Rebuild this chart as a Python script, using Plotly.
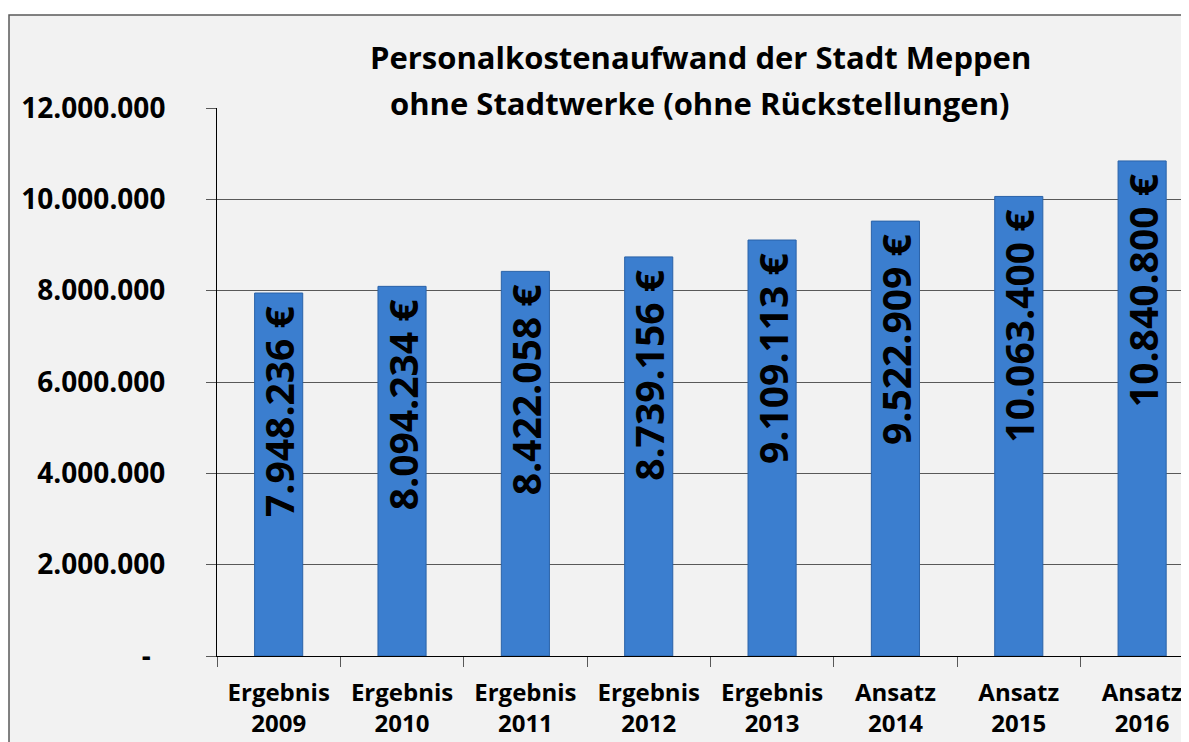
import plotly.graph_objects as go

categories = ["Ergebnis<br>2009", "Ergebnis<br>2010", "Ergebnis<br>2011", "Ergebnis<br>2012",
              "Ergebnis<br>2013", "Ansatz<br>2014", "Ansatz<br>2015", "Ansatz<br>2016"]
values = [7948236, 8094234, 8422058, 8739156, 9109113, 9522909, 10063400, 10840800]
value_labels = ["7.948.236 €", "8.094.234 €", "8.422.058 €", "8.739.156 €",
                "9.109.113 €", "9.522.909 €", "10.063.400 €", "10.840.800 €"]
y_ticks = [0, 2000000, 4000000, 6000000, 8000000, 10000000, 12000000]
y_tick_labels = ["-\u00a0\u00a0", "2.000.000", "4.000.000", "6.000.000",
                 "8.000.000", "10.000.000", "12.000.000"]
title_lines = ["Personalkostenaufwand der Stadt Meppen", "ohne Stadtwerke (ohne Rückstellungen)"]

# page has an 8px body margin: figure sized to fill the rest
W, H = 1181, 734
ml, mr, mt, mb = 209, 0, 100, 86
pw = W - ml - mr
ph = H - mt - mb

FONT = "Open Sans"

fig = go.Figure()
fig.add_trace(go.Bar(
    x=categories,
    y=values,
    width=0.39,
    marker=dict(color="#3B7ECF", line=dict(color="#2A62A8", width=1)),
    text=[t + "\u00a0" for t in value_labels],
    textposition="inside",
    insidetextanchor="end",
    textangle=-90,
    constraintext="none",
    textfont=dict(family=FONT, size=39, color="black", weight="bold"),
    cliponaxis=False,
))

# chart-area frame
fig.add_shape(type="rect", xref="paper", yref="paper",
              x0=(1 - ml) / pw, x1=1.2, y0=-1, y1=1 + (mt - 7) / ph,
              fillcolor="#F2F2F2", line=dict(color="#595959", width=1.5), layer="below")

# title lines (page y 57 and 103 -> figure y 49 and 95)
for line, yc in zip(title_lines, [49, 95]):
    fig.add_annotation(text=line, xref="paper", yref="paper",
                       x=(692 - ml) / pw, y=1 + (mt - yc) / ph,
                       xanchor="center", yanchor="middle", showarrow=False,
                       font=dict(family=FONT, size=31, color="black", weight="bold"))

fig.update_layout(
    width=W, height=H,
    margin=dict(l=ml, r=mr, t=mt, b=mb, pad=0),
    paper_bgcolor="white",
    plot_bgcolor="rgba(0,0,0,0)",
    showlegend=False,
    font=dict(family=FONT, color="black"),
)

fig.update_xaxes(
    type="category",
    range=[-0.5, 7.38],
    showline=True, linecolor="black", linewidth=1,
    ticks="outside", ticklen=10, tickcolor="#595959", tickson="boundaries",
    showgrid=False,
    tickfont=dict(family=FONT, size=24, color="black", weight="bold"),
    ticklabelstandoff=15,
    zeroline=False,
)
fig.update_yaxes(
    range=[0, 12000000],
    tickmode="array", tickvals=y_ticks, ticktext=y_tick_labels,
    showline=True, linecolor="black", linewidth=1,
    ticks="outside", ticklen=10, tickcolor="#595959",
    showgrid=True, gridcolor="#595959", gridwidth=1,
    tickfont=dict(family=FONT, size=28, color="black", weight="bold"),
    ticklabelstandoff=35,
    zeroline=False,
)

fig.write_html("out.html")
